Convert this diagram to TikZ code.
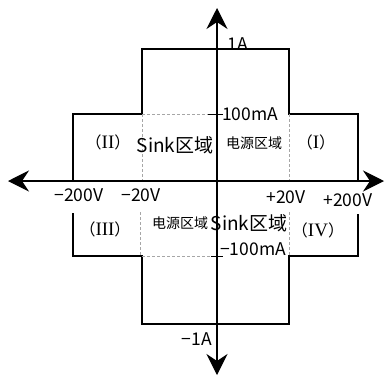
\documentclass[tikz,border=0pt]{standalone}
\usepackage{fontspec}
\setmainfont{Noto Sans CJK SC}
\newfontfamily\rmn{Liberation Serif}
\usetikzlibrary{arrows.meta}
\newcommand{\rnum}[1]{{\rmn\fontsize{19}{19}\selectfont #1}}
\begin{document}
\begin{tikzpicture}[x=1pt,y=-1pt,
  axisline/.style={line width=1.3pt,-{Stealth[length=21pt,width=21pt,inset=7pt]}},
  outline/.style={line width=1.1pt},
  dashline/.style={gray!70,line width=0.6pt,dash pattern=on 3pt off 2pt},
  lbl/.style={inner sep=0pt,font=\fontsize{17.5}{17.5}\selectfont},
  big/.style={inner sep=0pt,font=\fontsize{19}{19}\selectfont},
  small/.style={inner sep=0pt,font=\fontsize{14}{14}\selectfont},
  quad/.style={inner sep=0pt,font=\fontsize{16}{16}\selectfont}]
\useasboundingbox (0,0) rectangle (391,378);
\fill[white] (0,0) rectangle (391,378);
% coordinates
\coordinate (O) at (217,181);
\coordinate (xl) at (8,181);
\coordinate (xr) at (384,181);
\coordinate (yt) at (217,8);
\coordinate (yb) at (217,375);
% outline
\draw[outline] (73,181) -- (73,114) -- (142,114) -- (142,49) -- (289,49) -- (289,114) -- (358,114) -- (358,181);
\draw[outline] (73,213) -- (73,256) -- (142,256) -- (142,324) -- (289,324) -- (289,256) -- (358,256) -- (358,214);
% dashed
\draw[dashline] (142,114) -- (142,181);
\draw[dashline] (289,114) -- (289,181);
\draw[dashline] (140,212) -- (140,256);
\draw[dashline] (289,212) -- (289,256);
\draw[dashline] (142,114) -- (208,114);
\draw[dashline] (142,256) -- (213,256);
% ticks
\draw[line width=0.9pt] (208,114) -- (223,114);
\draw[line width=0.9pt] (211,256) -- (223,256);
% axes
\draw[axisline] (O) -- (xr);
\draw[axisline] (O) -- (xl);
\draw[axisline] (O) -- (yt);
\draw[axisline] (O) -- (yb);
% labels
\node[lbl] (a1) at (238,44) {1A};
\node[lbl] (am1) at (197,339) {−1A};
\node[lbl,anchor=west] (ma) at (222,114) {100mA};
\node[lbl,anchor=west] (mam) at (220,249) {−100mA};
\node[lbl] (v200m) at (79,195) {−200V};
\node[lbl] (v20m) at (141,195) {−20V};
\node[lbl] (v20) at (286,197) {+20V};
\node[lbl] (v200) at (348,200) {+200V};
\node[quad] (q2) at (108,142) {（\rnum{II}）};
\node[big] (s2) at (175,145) {Sink区域};
\node[small] (p1) at (254,143) {电源区域};
\node[quad] (q1) at (316,142) {（\rnum{I}）};
\node[quad] (q3) at (105,229) {（\rnum{III}）};
\node[small] (p3) at (180,223) {电源区域};
\node[big] (s4) at (249,223) {Sink区域};
\node[quad] (q4) at (318,230) {（\rnum{IV}）};
\end{tikzpicture}
\end{document}
